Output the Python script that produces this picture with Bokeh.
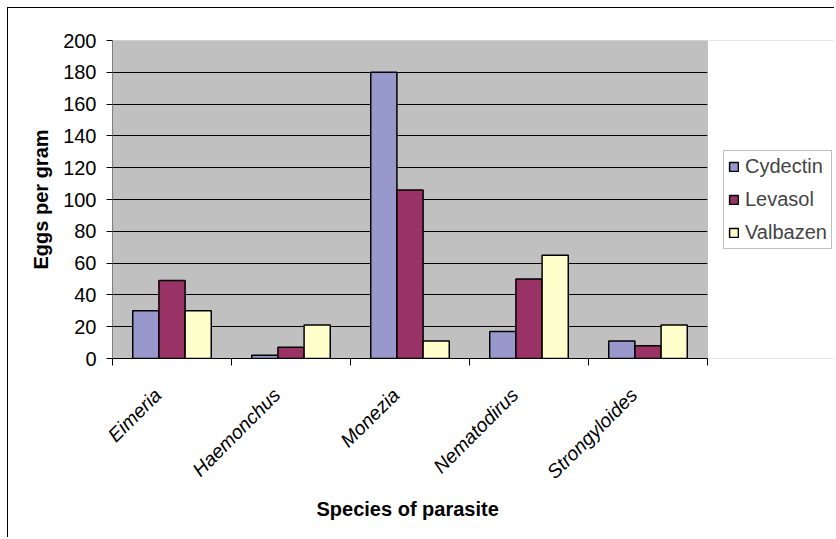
import math
import numpy as np
from bokeh.plotting import figure
from bokeh.models import (ColumnDataSource, Range1d, FixedTicker, Legend, LegendItem,
                          BoxAnnotation, Title)
from bokeh.embed import file_html
from bokeh.resources import INLINE

# ---- data ----
species = ["Eimeria", "Haemonchus", "Monezia", "Nematodirus", "Strongyloides"]
drugs = ["Cydectin", "Levasol", "Valbazen"]
cydectin = [30, 2, 180, 17, 11]
levasol = [49, 7, 106, 50, 8]
valbazen = [30, 21, 11, 65, 21]
colors = ["#9898CC", "#993366", "#FFFFCC"]
y_ticks = [0, 20, 40, 60, 80, 100, 120, 140, 160, 180, 200]
x_title = "Species of parasite"
y_title = "Eggs per gram"

FONT = "Liberation Sans"

W, H = 827, 530
LEFT, TOP, BOTTOM = 104, 32, 180
n = len(species)
cat_px = 119.0                       # pixel width of one category slot
frame_w = W - LEFT
x_end = frame_w / cat_px             # extra room on the right hosts the legend

p = figure(width=W, height=H, output_backend="svg", toolbar_location=None,
           x_range=Range1d(0, x_end), y_range=Range1d(0, 200),
           min_border_left=LEFT, min_border_top=TOP, min_border_right=0,
           min_border_bottom=BOTTOM,
           styles={"margin-left": "7px", "margin-top": "7px",
                   "border-left": "1px solid #000", "border-top": "1px solid #000"})

p.background_fill_color = "#C0C0C0"
p.border_fill_color = "white"
p.outline_line_color = None

centers = np.arange(n) + 0.5
bw = 0.22
offsets = [-bw, 0.0, bw]
series = [cydectin, levasol, valbazen]

# grid
p.xgrid.grid_line_color = None
p.ygrid.ticker = FixedTicker(ticks=y_ticks[1:-1])
p.ygrid.grid_line_color = "black"
p.ygrid.grid_line_width = 1

# white area right of the plot region (legend lives there)
p.add_layout(BoxAnnotation(left=n, fill_color="white", fill_alpha=1,
                           line_color=None, level="underlay"))
# plot-area outline
p.add_layout(BoxAnnotation(left=0, right=n, bottom=0, top=200, fill_alpha=0,
                           line_color="#808080", line_width=1, level="underlay"))

renderers = []
for name, vals, col, off in zip(drugs, series, colors, offsets):
    src = ColumnDataSource(dict(x=centers + off, top=vals))
    r = p.vbar(x="x", top="top", bottom=0, width=bw, source=src,
               fill_color=col, line_color="black", line_width=1.5)
    renderers.append((name, r))

# y axis
p.yaxis.ticker = FixedTicker(ticks=y_ticks)
p.yaxis.axis_label = y_title
p.yaxis.axis_label_text_font = FONT
p.yaxis.axis_label_text_font_style = "bold"
p.yaxis.axis_label_text_font_size = "20px"
p.yaxis.axis_label_text_color = "black"
p.yaxis.axis_label_standoff = 8
p.yaxis.major_label_text_font = FONT
p.yaxis.major_label_text_font_size = "20px"
p.yaxis.major_label_text_color = "black"
p.yaxis.major_label_standoff = 10
p.yaxis.major_tick_out = 6
p.yaxis.major_tick_in = 0
p.yaxis.minor_tick_line_color = None
p.yaxis.axis_line_color = "#808080"
p.yaxis.major_tick_line_color = "black"

# x axis: boundary ticks as minor ticks, labels slightly left of centre (Excel style)
label_shift = 0.12
label_pos = [float(c - label_shift) for c in centers]
p.xaxis.bounds = (0, n)
p.xaxis.ticker = FixedTicker(ticks=label_pos, minor_ticks=list(range(n + 1)))
p.xaxis.major_label_overrides = {lp: s for lp, s in zip(label_pos, species)}
p.xaxis.major_label_orientation = math.pi / 4
p.xaxis.major_label_text_font = FONT
p.xaxis.major_label_text_font_style = "italic"
p.xaxis.major_label_text_font_size = "19.5px"
p.xaxis.major_label_text_color = "black"
p.xaxis.major_label_standoff = 26
p.xaxis.major_tick_out = 0
p.xaxis.major_tick_in = 0
p.xaxis.minor_tick_out = 7
p.xaxis.minor_tick_in = 0
p.xaxis.minor_tick_line_color = "black"
p.xaxis.axis_line_color = "black"

# x-axis title centred under the plot region (not the whole frame)
t = Title(text=x_title, align="left", offset=204, standoff=4)
t.text_font = FONT
t.text_font_style = "bold"
t.text_font_size = "20px"
t.text_color = "black"
p.add_layout(t, "below")

# legend
legend = Legend(items=[LegendItem(label=nm, renderers=[r]) for nm, r in renderers],
                location=(611, 109), orientation="vertical")
legend.label_text_font = FONT
legend.label_text_font_size = "20px"
legend.glyph_width = 11
legend.glyph_height = 11
legend.label_standoff = 6
legend.spacing = 10
legend.padding = 4
legend.margin = 0
legend.border_line_color = "#808080"
legend.border_line_width = 1
legend.background_fill_color = "white"
legend.background_fill_alpha = 1
p.add_layout(legend, "center")

open("out.html", "w").write(file_html(p, INLINE))
